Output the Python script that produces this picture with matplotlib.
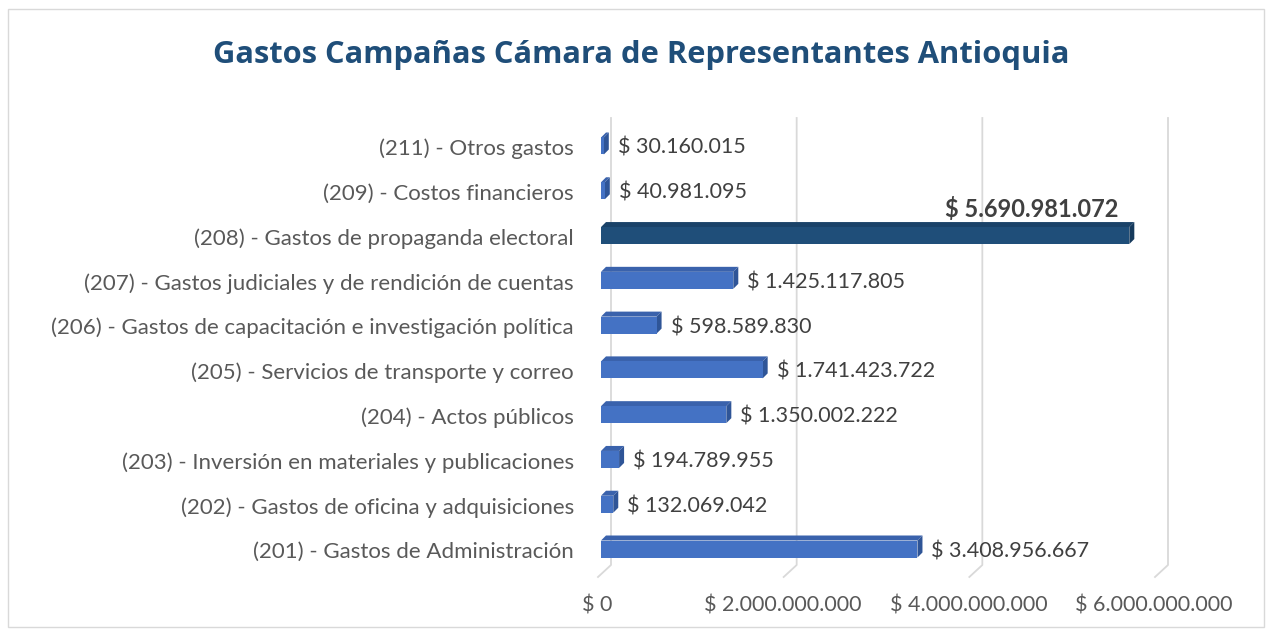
import matplotlib
matplotlib.use("Agg")
import matplotlib.pyplot as plt
from matplotlib.patches import Polygon, Rectangle

categories = [
    "(201) - Gastos de Administración",
    "(202) - Gastos de oficina y adquisiciones",
    "(203) - Inversión en materiales y publicaciones",
    "(204) - Actos públicos",
    "(205) - Servicios de transporte y correo",
    "(206) - Gastos de capacitación e investigación política",
    "(207) - Gastos judiciales y de rendición de cuentas",
    "(208) - Gastos de propaganda electoral",
    "(209) - Costos financieros",
    "(211) - Otros gastos",
]
values = [3408956667, 132069042, 194789955, 1350002222, 1741423722,
          598589830, 1425117805, 5690981072, 40981095, 30160015]
highlight = "(208) - Gastos de propaganda electoral"
xticks = [0, 2000000000, 4000000000, 6000000000]
title = "Gastos Campañas Cámara de Representantes Antioquia"

def fmt(v):
    return "$ " + f"{v:,}".replace(",", ".")

plt.rcParams['font.family'] = ['Lato', 'DejaVu Sans']

W, H = 1273, 635
fig = plt.figure(figsize=(W / 100, H / 100), dpi=100)

# outer border
fig.patches.append(Rectangle((8 / W, 8 / H), (W - 17) / W, (H - 17) / H,
                             transform=fig.transFigure, fill=False,
                             edgecolor="#D9D9D9", linewidth=1))

fig.text(641 / W, 1 - 55 / H, title, ha="center", va="center",
         fontsize=22.2, fontweight="bold", color="#1F4E79",
         family=['Open Sans', 'DejaVu Sans'])

x0px, x1px = 601, 1158
row_top, row_bot = 146, 549
n = len(categories)
rowpx = (row_bot - row_top) / (n - 1)
ytop_px = row_top - rowpx / 2
ybot_px = row_bot + rowpx / 2
ax = fig.add_axes([x0px / W, 1 - ybot_px / H, (x1px - x0px) / W, (ybot_px - ytop_px) / H])
ax.set_xlim(0, 6e9)
ax.set_ylim(-0.5, n - 0.5)
ax.axis("off")

px2dx = 6e9 / (x1px - x0px)
px2dy = 1 / rowpx

def py2y(py):
    return (ybot_px - py) / rowpx - 0.5

# gridlines (back wall + floor diagonal)
for v in xticks:
    xb = v + 10 * px2dx
    ax.plot([xb, xb, xb - 13 * px2dx], [py2y(118), py2y(565), py2y(577)],
            color="#D9D9D9", linewidth=1.3, clip_on=False, zorder=1)
    ax.text(v - 4 * px2dx, py2y(606), fmt(v), ha="center", va="center",
            fontsize=15.5, color="#595959")

bh = 17 * px2dy
ddx = 5 * px2dx
ddy = 5 * px2dy
for i, (cat, v) in enumerate(zip(categories, values)):
    hl = cat == highlight
    front = "#1F4E79" if hl else "#4472C4"
    top = "#1A4268" if hl else "#3A62AC"
    side = "#163A5C" if hl else "#2F5597"
    y0 = i - bh / 2
    y1 = i + bh / 2
    ax.add_patch(Polygon([(0, y1), (v, y1), (v + ddx, y1 + ddy), (ddx, y1 + ddy)],
                         closed=True, facecolor=top, edgecolor="none", zorder=3, clip_on=False))
    ax.add_patch(Polygon([(v, y0), (v + ddx, y0 + ddy), (v + ddx, y1 + ddy), (v, y1)],
                         closed=True, facecolor=side, edgecolor="none", zorder=3, clip_on=False))
    ax.add_patch(Rectangle((0, y0), v, bh, facecolor=front, edgecolor="none",
                           zorder=4, clip_on=False))
    ax.text(-27 * px2dx, i - 3 * px2dy, cat, ha="right", va="center",
            fontsize=16, color="#595959")
    if hl:
        ax.text(v - 11 * px2dx, i + 27 * px2dy, fmt(v), ha="right", va="center",
                fontsize=17, fontweight="bold", color="#404040")
    else:
        ax.text(v + 14 * px2dx, i - 2 * px2dy, fmt(v), ha="left", va="center",
                fontsize=15.5, color="#404040")

fig.savefig("out.png", dpi=100)
